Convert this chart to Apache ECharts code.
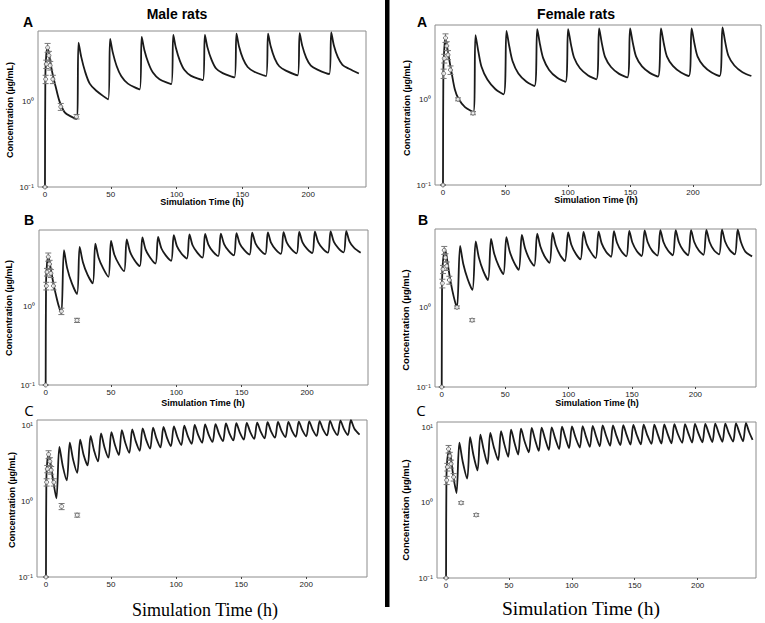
<!DOCTYPE html>
<html><head><meta charset="utf-8">
<script src="https://cdn.jsdelivr.net/npm/echarts@6/dist/echarts.min.js"></script>
<style>html,body{margin:0;padding:0;background:#fff}#c{width:765px;height:623px}</style>
</head><body><div id="c"></div>
<script>
// ---------- DATA ----------
const xTickValues = [0, 50, 100, 150, 200];

// observed (single dose) data
const obsTime   = [0, 0.5, 1, 2, 3, 4, 6, 12, 24];
const maleObs   = [0.1, 1.8, 2.7, 4.2, 3.4, 2.6, 1.8, 0.86, 0.66];
const maleErr   = [0, 0.2, 0.3, 0.5, 0.4, 0.3, 0.2, 0.08, 0.04];
const femaleObs = [0.1, 2.0, 3.0, 5.2, 4.2, 3.3, 2.2, 1.0, 0.69];
const femaleErr = [0, 0.25, 0.35, 0.6, 0.5, 0.4, 0.25, 0.04, 0.03];

// simulated profiles [time h, concentration µg/mL]
const maleA_sim = [[0,0.1],[0.3,2.0],[1,3.5],[2,4.2],[3,3.6],[4,2.9],[6,2.0],[8,1.5],[11,1.0],[15,0.74],[20,0.66],[24,0.62],
 [25.5,4.8],[27.5,3.3],[30.5,2.2],[34,1.6],[39,1.32],[48,1.05],
 [49.5,5.3],[51.5,3.7],[54.5,2.55],[58,1.95],[63,1.6],[72,1.37],
 [73.5,5.6],[75.5,3.95],[78.5,2.8],[82,2.15],[87,1.8],[96,1.58],
 [97.5,5.9],[99.5,4.15],[102.5,2.95],[106,2.3],[111,1.97],[120,1.76],
 [121.5,5.9],[123.5,4.2],[126.5,3.05],[130,2.4],[135,2.12],[144,1.89],
 [145.5,6.1],[147.5,4.3],[150.5,3.1],[154,2.5],[159,2.2],[168,1.96],
 [169.5,6.1],[171.5,4.35],[174.5,3.15],[178,2.55],[183,2.27],[192,2.0],
 [193.5,6.2],[195.5,4.4],[198.5,3.2],[202,2.6],[207,2.33],[216,2.07],
 [217.5,6.3],[219.5,4.45],[222.5,3.25],[226,2.65],[231,2.38],[238.5,2.1]];

const femaleA_sim = [[0,0.1],[0.3,2.2],[1,3.8],[1.8,5.1],[3,4.3],[5,2.9],[7,2.0],[9.5,1.3],[12.3,1.02],[17.6,0.81],[24.3,0.71],
 [26,5.6],[28.3,3.6],[30.8,2.4],[35.5,1.7],[42,1.31],[48.5,1.14],
 [50.8,6.3],[53.1,4.1],[55.6,2.8],[60.3,2.0],[66.8,1.6],[73.2,1.43],
 [75.4,6.6],[77.7,4.3],[80.2,3.0],[84.9,2.2],[91.4,1.78],[98,1.6],
 [100.1,6.6],[102.4,4.35],[104.9,3.05],[109.6,2.3],[116.1,1.9],[122.7,1.71],
 [124.9,6.7],[127.2,4.4],[129.7,3.1],[134.4,2.38],[140.9,1.98],[147.5,1.8],
 [149.7,6.7],[152,4.45],[154.5,3.15],[159.2,2.42],[165.7,2.02],[172,1.84],
 [174.4,6.7],[176.7,4.45],[179.2,3.15],[183.9,2.45],[190.4,2.05],[196.7,1.87],
 [198.9,6.7],[201.2,4.45],[203.7,3.15],[208.4,2.45],[214.9,2.05],[221.3,1.87],
 [223.6,6.9],[225.9,4.55],[228.4,3.2],[233.1,2.48],[239.6,2.07],[246.7,1.87]];

const maleB_sim = [[0,0.1],[0.3,2.0],[1,3.4],[2,4.2],[3,3.6],[4,2.9],[6,1.9],[8,1.35],[10,1.0],[12,0.81],
 [14,5.1],[16.5,3.0],[20,1.95],[24,1.42],
 [26,5.6],[28.5,3.6],[32,2.5],[36,1.94],
 [38,6.2],[40.5,4.1],[44,3.0],[48,2.35],
 [50,6.7],[52.5,4.5],[56,3.4],[60,2.77],
 [62,7.0],[64.5,4.9],[68,3.8],[72,3.2],
 [74,7.4],[76.5,5.2],[80,4.1],[84,3.46],
 [86,7.5],[88.5,5.4],[92,4.35],[96,3.75],
 [98,7.9],[100.5,5.7],[104,4.6],[108,4.0],
 [110,8.1],[112.5,5.85],[116,4.75],[120,4.1],
 [122,8.2],[124.5,6.0],[128,4.9],[132,4.3],
 [134,8.3],[136.5,6.1],[140,5.0],[144,4.4],
 [146,8.4],[148.5,6.2],[152,5.1],[156,4.5],
 [158,8.5],[160.5,6.25],[164,5.15],[168,4.55],
 [170,8.6],[172.5,6.3],[176,5.2],[180,4.6],
 [182,8.65],[184.5,6.35],[188,5.25],[192,4.65],
 [194,8.7],[196.5,6.4],[200,5.3],[204,4.7],
 [206,8.75],[208.5,6.45],[212,5.35],[216,4.75],
 [218,8.8],[220.5,6.5],[224,5.4],[228,4.8],
 [230,8.9],[232.5,6.55],[236,5.45],[241,4.75]];

const femaleB_sim = [[0,0.1],[0.3,2.2],[1,3.8],[2.6,5.3],[3.6,4.6],[5,3.3],[7,2.1],[9.5,1.35],[12,0.98],
 [14.5,5.9],[17,3.5],[20.5,2.25],[24.2,1.65],
 [26.8,6.7],[29.3,4.2],[32.8,2.85],[36.5,2.2],
 [38.9,7.2],[41.4,4.7],[44.9,3.3],[48.6,2.6],
 [51,7.6],[53.5,5.1],[57,3.65],[60.7,2.95],
 [63.2,8.1],[65.7,5.5],[69.2,4.0],[72.9,3.3],
 [75.3,8.4],[77.8,5.8],[81.3,4.3],[85,3.6],
 [87.4,8.6],[89.9,6.0],[93.4,4.5],[97.1,3.8],
 [99.7,8.7],[102.2,6.1],[105.7,4.7],[109.4,4.0],
 [111.8,8.8],[114.3,6.2],[117.8,4.85],[121.4,4.15],
 [123.7,8.9],[126.2,6.3],[129.7,4.95],[133.5,4.3],
 [135.8,9.0],[138.3,6.4],[141.8,5.0],[145.6,4.35],
 [147.9,9.1],[150.4,6.45],[153.9,5.05],[157.7,4.4],
 [160,9.2],[162.5,6.5],[166,5.1],[170.1,4.45],
 [172.4,9.3],[174.9,6.55],[178.4,5.15],[182.2,4.5],
 [184.5,9.3],[187,6.55],[190.5,5.15],[194.3,4.5],
 [196.6,9.3],[199.1,6.6],[202.6,5.2],[206.4,4.55],
 [208.7,9.35],[211.2,6.6],[214.7,5.2],[218.7,4.6],
 [221,9.4],[223.5,6.65],[227,5.25],[231.1,4.6],
 [233.4,9.4],[235.9,6.6],[239.4,5.0],[244.7,4.35]];

const maleC_sim = [[0,0.1],[0.3,2.0],[1,3.4],[2,4.2],[3,3.6],[4,2.8],[5.5,1.9],[8,1.1],
 [10.3,5.3],[13,2.9],[16,1.9],
 [18.3,6.0],[21,3.5],[24,2.4],
 [26.3,6.6],[29,4.1],[32,3.0],
 [34.3,7.4],[37,4.7],[40,3.4],
 [42.3,8.0],[45,5.2],[48,3.8],
 [50.3,8.3],[53,5.6],[56,4.1],
 [58.3,8.8],[61,5.95],[64,4.4],
 [66.3,9.0],[69,6.25],[72,4.7],
 [74.3,9.3],[77,6.55],[80,5.0],
 [82.3,9.5],[85,6.75],[88,5.2],
 [90.3,9.7],[93,6.95],[96,5.4],
 [98.3,9.9],[101,7.15],[104,5.6],
 [106.3,10.1],[109,7.35],[112,5.8],
 [114.3,10.3],[117,7.55],[120,6.0],
 [122.3,10.5],[125,7.7],[128,6.15],
 [130.3,10.6],[133,7.85],[136,6.3],
 [138.3,10.8],[141,8.0],[144,6.45],
 [146.3,10.9],[149,8.15],[152,6.6],
 [154.3,11.0],[157,8.3],[160,6.75],
 [162.3,11.1],[165,8.4],[168,6.85],
 [170.3,11.2],[173,8.5],[176,7.0],
 [178.3,11.3],[181,8.6],[184,7.1],
 [186.3,11.35],[189,8.7],[192,7.2],
 [194.3,11.45],[197,8.8],[200,7.3],
 [202.3,11.5],[205,8.9],[208,7.4],
 [210.3,11.6],[213,8.95],[216,7.5],
 [218.3,11.7],[221,9.0],[224,7.55],
 [226.3,11.8],[229,9.1],[232,7.6],
 [234.3,11.9],[237,9.2],[241,7.7]];

const femaleC_sim = [[0,0.1],[0.3,2.2],[1,3.8],[2.5,5.0],[3.5,4.3],[5,2.8],[6.5,1.9],[8.3,1.35],
 [10.6,6.3],[13.3,3.5],[16.8,2.1],
 [19.1,7.5],[21.8,4.3],[25,2.7],
 [27.3,8.1],[30,5.0],[32.9,3.3],
 [35.2,8.5],[38,5.5],[41.4,3.7],
 [43.7,9.0],[46.4,5.95],[49.4,4.1],
 [51.7,9.4],[54.4,6.3],[57.3,4.4],
 [59.6,9.7],[62.4,6.6],[65.8,4.7],
 [68.1,9.9],[70.8,6.85],[73.7,4.9],
 [76,10.0],[78.8,7.0],[81.7,5.05],
 [84,10.1],[86.8,7.15],[89.9,5.2],
 [92.2,10.3],[95,7.3],[97.8,5.35],
 [100.1,10.4],[102.9,7.45],[106.3,5.45],
 [108.6,10.5],[111.3,7.55],[114.3,5.55],
 [116.6,10.6],[119.3,7.65],[122.2,5.65],
 [124.5,10.7],[127.3,7.75],[130.4,5.75],
 [132.7,10.75],[135.4,7.85],[138.6,5.85],
 [140.9,10.8],[143.6,7.95],[146.6,5.95],
 [148.9,10.9],[151.6,8.0],[154.8,6.0],
 [157.1,10.95],[159.8,8.1],[163.3,6.1],
 [165.6,11.0],[168.3,8.15],[171.2,6.15],
 [173.5,11.05],[176.2,8.2],[179.2,6.2],
 [181.5,11.1],[184.2,8.3],[187.7,6.3],
 [190,11.15],[192.7,8.35],[195.6,6.35],
 [197.9,11.2],[200.6,8.4],[203.8,6.4],
 [206.1,11.25],[208.8,8.45],[211.7,6.45],
 [214,11.3],[216.7,8.5],[219.7,6.5],
 [222,11.35],[224.7,8.55],[228.2,6.55],
 [230.5,11.4],[233.2,8.6],[236.1,6.6],
 [238.4,11.45],[241,8.7],[243.7,6.9]];

// ---------- LAYOUT ----------
const panels = [
 {sim: maleA_sim,   obs: maleObs,   err: maleErr,   left:38,  top:31,  width:328, height:156, xmin:-5.3, xmax:243.9, ymax:6.56},
 {sim: femaleA_sim, obs: femaleObs, err: femaleErr, left:435, top:25,  width:326, height:160, xmin:-6.4, xmax:254.4, ymax:7.36},
 {sim: maleB_sim,   obs: maleObs,   err: maleErr,   left:39,  top:230, width:329, height:155, xmin:-5.1, xmax:246.6, ymax:9.2},
 {sim: femaleB_sim, obs: femaleObs, err: femaleErr, left:435, top:229, width:321, height:158, xmin:-5.3, xmax:247.8, ymax:9.6},
 {sim: maleC_sim,   obs: maleObs,   err: maleErr,   left:37,  top:420, width:330, height:157, xmin:-6.9, xmax:246.7, ymax:12.0},
 {sim: femaleC_sim, obs: femaleObs, err: femaleErr, left:437, top:422, width:319, height:156, xmin:-7.2, xmax:246.4, ymax:11.9}
];

const FONT = 'Arial, "Liberation Sans", sans-serif';
function powLabel(v){
  const l = Math.log10(v), e = Math.round(l);
  if (Math.abs(l - e) > 1e-6) return '';
  return ({'-1':'10\u207B\u00B9','0':'10\u2070','1':'10\u00B9'})[String(e)] || '';
}
function xLabel(v){ return xTickValues.some(t => Math.abs(t - v) < 1e-6) ? String(v) : ''; }

function renderErr(params, api){
  const x = api.value(0), lo = api.value(1), hi = api.value(2);
  const p1 = api.coord([x, hi]), p2 = api.coord([x, lo]);
  const w = 3, st = {stroke:'#777', lineWidth:1};
  return {type:'group', children:[
    {type:'line', shape:{x1:p1[0], y1:p1[1], x2:p2[0], y2:p2[1]}, style:st},
    {type:'line', shape:{x1:p1[0]-w, y1:p1[1], x2:p1[0]+w, y2:p1[1]}, style:st},
    {type:'line', shape:{x1:p2[0]-w, y1:p2[1], x2:p2[0]+w, y2:p2[1]}, style:st}
  ]};
}

const grid = [], xAxis = [], yAxis = [], series = [];
panels.forEach((p, i) => {
  grid.push({left:p.left, top:p.top, width:p.width, height:p.height, show:true, borderColor:'#8c8c8c', borderWidth:1, containLabel:false});
  xAxis.push({type:'value', gridIndex:i, min:p.xmin, max:p.xmax, splitNumber:5,
    axisLine:{show:false, onZero:false}, splitLine:{show:false},
    axisTick:{show:true, length:2, lineStyle:{color:'#444'}, customValues:xTickValues},
    axisLabel:{fontSize:8, color:'#222', margin:3, fontFamily:FONT, formatter:xLabel, customValues:xTickValues}
  });
  yAxis.push({type:'log', logBase:10, gridIndex:i, min:0.1, max:p.ymax,
    axisLine:{show:false, onZero:false}, splitLine:{show:false}, minorTick:{show:false},
    axisTick:{show:false},
    axisLabel:{fontSize:8, color:'#222', margin:4, fontFamily:FONT, formatter:powLabel}
  });
  series.push({type:'line', xAxisIndex:i, yAxisIndex:i, data:p.sim, showSymbol:false, symbol:'none', smooth:0.3,
    lineStyle:{color:'#1a1a1a', width:1.8}, z:3, silent:true});
  series.push({type:'custom', xAxisIndex:i, yAxisIndex:i, renderItem:renderErr, z:4, silent:true,
    data: obsTime.map((t, j) => [t, p.obs[j] - p.err[j], p.obs[j] + p.err[j]])});
  series.push({type:'scatter', xAxisIndex:i, yAxisIndex:i, symbol:'circle', symbolSize:4, z:5, silent:true,
    itemStyle:{color:'#fff', borderColor:'#555', borderWidth:1},
    data: obsTime.map((t, j) => [t, p.obs[j]])});
});

function txt(text, x, y, font, opts){
  return Object.assign({type:'text', x:x, y:y, silent:true,
    style:{text:text, font:font, fill:'#000', textAlign:'center', textVerticalAlign:'middle'}}, opts||{});
}
const graphic = [
  {type:'rect', shape:{x:385, y:0, width:4.5, height:607}, style:{fill:'#000'}},
  txt('Male rats', 177, 14, 'bold 14px ' + FONT),
  txt('Female rats', 576, 14, 'bold 14px ' + FONT),
  txt('A', 28, 22, 'bold 14px ' + FONT),
  txt('A', 422, 22, 'bold 14px ' + FONT),
  txt('B', 29, 220, 'bold 14px ' + FONT),
  txt('B', 423, 220, 'bold 14px ' + FONT),
  txt('C', 29, 410, '15px "Open Sans", ' + FONT),
  txt('C', 421, 410, '15px "Open Sans", ' + FONT),
  txt('Simulation Time (h)', 202, 202, 'bold 9px ' + FONT),
  txt('Simulation Time (h)', 596, 200, 'bold 9px ' + FONT),
  txt('Simulation Time (h)', 203, 403, 'bold 9px ' + FONT),
  txt('Simulation Time (h)', 597, 403, 'bold 9px ' + FONT),
  txt('Simulation Time (h)', 205, 610, '18px "Liberation Serif", "Times New Roman", serif'),
  txt('Simulation Time (h)', 581, 608, '19.5px "Liberation Serif", "Times New Roman", serif'),
  txt('Concentration (\u00B5g/mL)', 10, 110, 'bold 9px ' + FONT, {rotation: Math.PI/2}),
  txt('Concentration (\u00B5g/mL)', 407, 108, 'bold 9px ' + FONT, {rotation: Math.PI/2}),
  txt('Concentration (\u00B5g/mL)', 9, 308, 'bold 9px ' + FONT, {rotation: Math.PI/2}),
  txt('Concentration (\u00B5g/mL)', 405, 320, 'bold 9.5px ' + FONT, {rotation: Math.PI/2}),
  txt('Concentration (\u00B5g/mL)', 12, 500, 'bold 9px ' + FONT, {rotation: Math.PI/2}),
  txt('Concentration (\u00B5g/mL)', 405, 510, 'bold 9.5px ' + FONT, {rotation: Math.PI/2})
];

const chart = echarts.init(document.getElementById('c'), null, {renderer:'svg', width:765, height:623});
chart.setOption({animation:false, backgroundColor:'#fff', grid, xAxis, yAxis, series, graphic});
</script>
</body></html>
